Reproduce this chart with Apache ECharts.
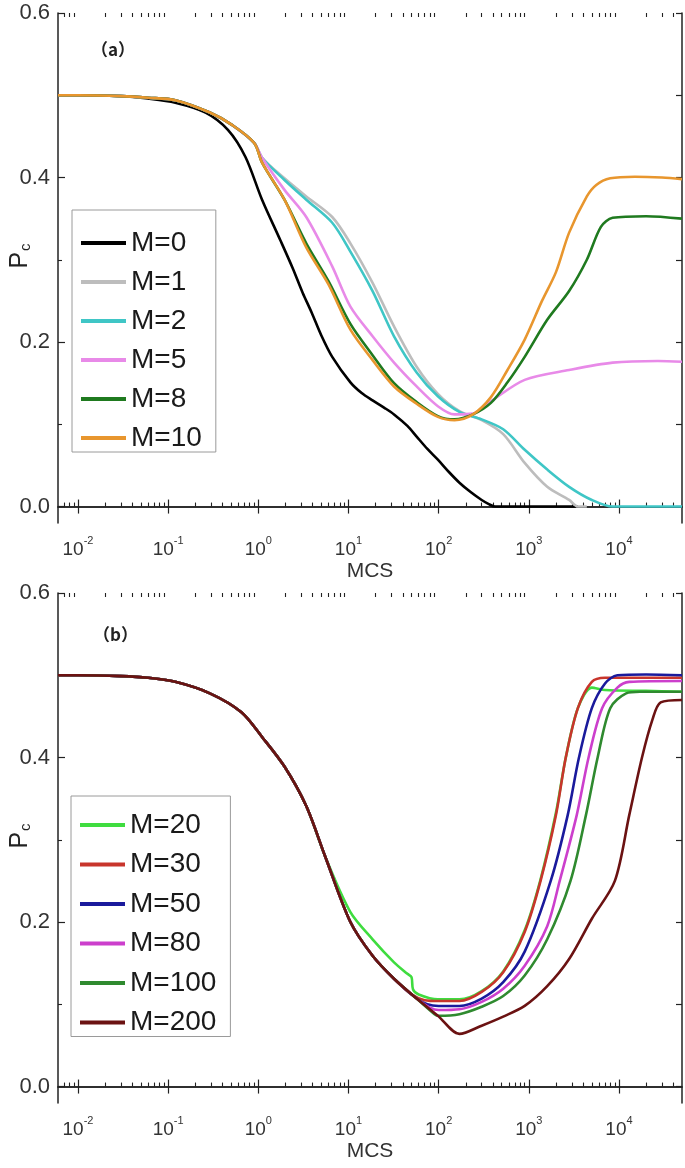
<!DOCTYPE html>
<html><head><meta charset="utf-8">
<script src="https://cdn.jsdelivr.net/npm/echarts@6/dist/echarts.min.js"></script>
<style>html,body{margin:0;padding:0;background:#fff}#c{width:685px;height:1168px}</style>
</head><body><div id="c"></div>
<script>
// ---------- tick definitions ----------
const xMajorTicks = [0.01, 0.1, 1, 10, 100, 1000, 10000];
const xMinorTicks = [0.007,0.008,0.009,0.02,0.03,0.04,0.05,0.06,0.07,0.08,0.09,0.2,0.3,0.4,0.5,0.6,0.7,0.8,0.9,2,3,4,5,6,7,8,9,20,30,40,50,60,70,80,90,200,300,400,500,600,700,800,900,2000,3000,4000,5000,6000,7000,8000,9000,20000,30000,40000];
const yMajorTicks = [0.0, 0.2, 0.4, 0.6];
const yMinorTicks = [0.1, 0.3, 0.5];
const yAllTicks = [0.0, 0.1, 0.2, 0.3, 0.4, 0.5, 0.6];

// ---------- panel (a) ----------
const namesA = ['M=0', 'M=1', 'M=2', 'M=5', 'M=8', 'M=10'];
const colorsA = ['#000000', '#bdbdbd', '#3fc6c6', '#e88ae8', '#1f7a1f', '#e8962e'];

const xA0 = [0.006,0.01,0.03,0.06,0.12,0.26,0.46,0.72,1.1,1.75,2.4,3.1,3.9,5,6.6,10.5,14,18.5,25,32,45,57,75,98,130,170,230,300,360,420,600,1000,2000,3500];
const yA0 = [0.5,0.5,0.499,0.496,0.491,0.479,0.458,0.425,0.373,0.324,0.29,0.26,0.236,0.208,0.182,0.151,0.138,0.129,0.12,0.112,0.098,0.085,0.07,0.057,0.042,0.029,0.017,0.008,0.003,0.0,0,0,0,0];

const xA1 = [0.006,0.01,0.03,0.06,0.12,0.29,0.51,0.9,1.1,1.95,3.4,6.6,10.5,18.5,32,57,98,170,300,520,900,1600,2800,3500,4400];
const yA1 = [0.5,0.5,0.499,0.497,0.494,0.479,0.464,0.442,0.424,0.399,0.377,0.352,0.32,0.272,0.219,0.17,0.137,0.116,0.105,0.088,0.053,0.024,0.008,0.0,0.0];

const xA2 = [0.006,0.01,0.03,0.06,0.12,0.29,0.51,0.9,1.1,1.95,3.4,6.6,10.5,18.5,32,57,98,170,300,520,900,1600,2800,5000,8500,20000,50000];
const yA2 = [0.5,0.5,0.499,0.497,0.494,0.479,0.464,0.442,0.424,0.397,0.373,0.345,0.31,0.262,0.207,0.163,0.134,0.115,0.106,0.094,0.069,0.045,0.024,0.008,0.0,0.0,0.0];

const xA5 = [0.006,0.01,0.03,0.06,0.12,0.29,0.51,0.9,1.1,1.95,3.4,6.6,10.5,18.5,32,57,98,150,240,380,900,2800,8500,27000,50000];
const yA5 = [0.5,0.5,0.499,0.497,0.494,0.479,0.464,0.442,0.424,0.385,0.352,0.292,0.243,0.207,0.175,0.146,0.122,0.112,0.113,0.128,0.154,0.166,0.175,0.177,0.176];

const xA8 = [0.006,0.01,0.03,0.06,0.12,0.29,0.51,0.9,1.1,1.95,3.4,6.0,10.5,18.5,32,57,98,150,240,380,580,900,1600,2800,4400,6300,8500,20000,50000];
const yA8 = [0.5,0.5,0.499,0.497,0.494,0.479,0.464,0.442,0.418,0.373,0.32,0.274,0.222,0.184,0.15,0.127,0.11,0.106,0.112,0.126,0.151,0.182,0.227,0.262,0.3,0.34,0.351,0.353,0.35];

const xA10 = [0.006,0.01,0.03,0.06,0.12,0.29,0.51,0.9,1.1,1.95,3.4,6.0,10.5,18.5,32,57,98,150,240,380,580,900,1400,2000,2800,4400,5600,8000,15000,30000,50000];
const yA10 = [0.5,0.5,0.499,0.497,0.494,0.479,0.464,0.442,0.418,0.373,0.315,0.27,0.215,0.178,0.146,0.125,0.109,0.105,0.112,0.133,0.166,0.203,0.25,0.285,0.333,0.377,0.391,0.399,0.401,0.4,0.398];

const xsA = [xA0, xA1, xA2, xA5, xA8, xA10];
const ysA = [yA0, yA1, yA2, yA5, yA8, yA10];

// ---------- panel (b) ----------
const namesB = ['M=20', 'M=30', 'M=50', 'M=80', 'M=100', 'M=200'];
const colorsB = ['#3fdc3f', '#c8352c', '#1a1a9c', '#cc3fcc', '#2f8a2f', '#6b1212'];

const xB20 = [0.006,0.01,0.03,0.06,0.12,0.29,0.65,1.1,1.95,3.4,5.5,10.5,18.5,32,45,50,52,60,98,170,300,520,900,1350,2000,2570,3500,5000,7000,20000,50000];
const yB20 = [0.5,0.5,0.499,0.497,0.492,0.478,0.455,0.425,0.389,0.341,0.28,0.212,0.179,0.151,0.137,0.133,0.118,0.112,0.106,0.106,0.116,0.14,0.19,0.252,0.333,0.4,0.46,0.485,0.482,0.481,0.48];

const xB30 = [0.006,0.01,0.03,0.06,0.12,0.29,0.65,1.1,1.95,3.4,5.5,10.5,18.5,32,50,70,100,170,300,520,900,1350,2000,2570,3500,5000,7000,20000,50000];
const yB30 = [0.5,0.5,0.499,0.497,0.492,0.478,0.455,0.425,0.389,0.341,0.28,0.2,0.159,0.131,0.112,0.105,0.104,0.104,0.115,0.139,0.188,0.25,0.33,0.4,0.46,0.492,0.497,0.497,0.497];

const xB50 = [0.006,0.01,0.03,0.06,0.12,0.29,0.65,1.1,1.95,3.4,5.5,10.5,18.5,32,57,75,100,170,300,520,900,1750,2700,3600,5000,7000,9600,20000,50000];
const yB50 = [0.5,0.5,0.499,0.497,0.492,0.478,0.455,0.425,0.389,0.341,0.28,0.2,0.159,0.131,0.107,0.1,0.098,0.098,0.107,0.127,0.164,0.25,0.33,0.4,0.46,0.49,0.5,0.501,0.5];

const xB80 = [0.006,0.01,0.03,0.06,0.12,0.29,0.65,1.1,1.95,3.4,5.5,10.5,18.5,32,57,80,100,170,300,520,900,1600,2200,3400,4600,6500,9600,13000,50000];
const yB80 = [0.5,0.5,0.499,0.497,0.492,0.478,0.455,0.425,0.389,0.341,0.28,0.2,0.159,0.131,0.107,0.096,0.093,0.094,0.103,0.119,0.147,0.195,0.25,0.33,0.4,0.46,0.485,0.492,0.493];

const xB100 = [0.006,0.01,0.03,0.06,0.12,0.29,0.65,1.1,1.95,3.4,5.5,10.5,18.5,32,57,90,100,170,300,520,900,1600,2900,4300,5800,8000,12000,17000,50000];
const yB100 = [0.5,0.5,0.499,0.497,0.492,0.478,0.455,0.425,0.389,0.341,0.28,0.2,0.159,0.131,0.107,0.088,0.086,0.088,0.097,0.11,0.135,0.179,0.25,0.33,0.4,0.46,0.478,0.48,0.48];

const xB200 = [0.006,0.01,0.03,0.06,0.12,0.29,0.65,1.1,1.95,3.4,5.5,10.5,18.5,32,57,98,170,300,520,900,1600,2800,5000,9000,13000,18000,23500,29000,50000];
const yB200 = [0.5,0.5,0.499,0.497,0.492,0.478,0.455,0.425,0.389,0.341,0.28,0.2,0.159,0.131,0.107,0.086,0.064,0.074,0.085,0.098,0.122,0.155,0.204,0.25,0.33,0.4,0.446,0.467,0.47];

const xsB = [xB20, xB30, xB50, xB80, xB100, xB200];
const ysB = [yB20, yB30, yB50, yB80, yB100, yB200];

// ---------- chart ----------
const FONT = '"Liberation Sans", Arial, sans-serif';
const AX = '#222';
const grids = [
  { left: 58, width: 624, top: 13, height: 510, containLabel: false, outerBoundsMode: 'none' },
  { left: 58, width: 624, top: 593, height: 510, containLabel: false, outerBoundsMode: 'none' }
];

const xAxes = [], yAxes = [];
grids.forEach((g, gi) => {
  const base = { type: 'log', logBase: 10, min: 0.006, max: 50000, gridIndex: gi, splitLine: { show: false } };
  xAxes.push(Object.assign({}, base, {
    position: 'bottom',
    axisLine: { show: true, lineStyle: { color: AX, width: 1.5 } },
    axisTick: { show: true, inside: true, length: 7, customValues: xMajorTicks, lineStyle: { color: AX, width: 1.2 } },
    axisLabel: {
      show: true, customValues: xMajorTicks, margin: 12, fontFamily: FONT,
      formatter: v => '{b|10}{s|' + Math.round(Math.log10(v)) + '}',
      rich: {
        b: { fontSize: 19, color: '#333', fontFamily: FONT, lineHeight: 24, verticalAlign: 'bottom' },
        s: { fontSize: 11, color: '#333', fontFamily: FONT, lineHeight: 24, verticalAlign: 'top' }
      }
    },
    name: 'MCS', nameLocation: 'middle', nameGap: 38,
    nameTextStyle: { fontSize: 21, color: '#333', fontFamily: FONT }
  }));
  xAxes.push(Object.assign({}, base, {
    position: 'top',
    axisLine: { show: true, lineStyle: { color: AX, width: 1.5 } },
    axisTick: { show: true, inside: true, length: 7, customValues: xMajorTicks, lineStyle: { color: AX, width: 1.2 } },
    axisLabel: { show: false }
  }));
  xAxes.push(Object.assign({}, base, {
    position: 'bottom',
    axisLine: { show: false },
    axisTick: { show: true, inside: true, length: 4, customValues: xMinorTicks, lineStyle: { color: AX, width: 1.1 } },
    axisLabel: { show: false }
  }));
  xAxes.push(Object.assign({}, base, {
    position: 'top',
    axisLine: { show: false },
    axisTick: { show: true, inside: true, length: 4, customValues: xMinorTicks, lineStyle: { color: AX, width: 1.1 } },
    axisLabel: { show: false }
  }));

  const ybase = { type: 'value', min: -0.02, max: 0.6, gridIndex: gi, splitLine: { show: false } };
  yAxes.push(Object.assign({}, ybase, {
    position: 'left',
    axisLine: { show: true, lineStyle: { color: AX, width: 1.5 } },
    axisTick: { show: true, inside: true, length: 7, customValues: yMajorTicks, lineStyle: { color: AX, width: 1.2 } },
    axisLabel: { show: true, customValues: yMajorTicks, margin: 8, fontSize: 22, color: '#333', fontFamily: FONT,
      formatter: v => Number(v).toFixed(1) }
  }));
  yAxes.push(Object.assign({}, ybase, {
    position: 'left',
    axisLine: { show: false },
    axisTick: { show: true, inside: true, length: 4, customValues: yMinorTicks, lineStyle: { color: AX, width: 1.1 } },
    axisLabel: { show: false }
  }));
  yAxes.push(Object.assign({}, ybase, {
    position: 'right',
    axisLine: { show: true, lineStyle: { color: AX, width: 1.5 } },
    axisTick: { show: true, inside: true, length: 6, customValues: yAllTicks, lineStyle: { color: AX, width: 1.2 } },
    axisLabel: { show: false }
  }));
});

const series = [];
function addSeries(names, colors, xs, ys, gi) {
  names.forEach((n, i) => {
    series.push({
      name: n, type: 'line', xAxisIndex: gi * 4, yAxisIndex: gi * 3,
      showSymbol: false, symbol: 'none', smooth: 0.3, animation: false,
      lineStyle: { color: colors[i], width: 2.6 }, itemStyle: { color: colors[i] },
      data: xs[i].map((x, k) => [x, ys[i][k]])
    });
  });
}
addSeries(namesA, colorsA, xsA, ysA, 0);
addSeries(namesB, colorsB, xsB, ysB, 1);

const legendCommon = {
  orient: 'vertical', icon: 'rect', itemWidth: 45, itemHeight: 4,
  borderColor: '#9a9a9a', borderWidth: 1, backgroundColor: '#fff',
  textStyle: { fontSize: 28, lineHeight: 28, color: '#1a1a1a', fontFamily: FONT },
  selectedMode: false
};

function yName(cy) {
  return {
    type: 'text', x: 20, y: cy, rotation: Math.PI / 2,
    style: {
      text: '{p|P}{c|c}', align: 'center', verticalAlign: 'middle',
      rich: {
        p: { fontSize: 25, fill: '#222', fontFamily: FONT },
        c: { fontSize: 15, fill: '#222', fontFamily: FONT, padding: [12, 0, 0, 1] }
      }
    }
  };
}

const option = {
  animation: false,
  backgroundColor: '#fff',
  grid: grids,
  xAxis: xAxes,
  yAxis: yAxes,
  title: [
    { text: '（a）', left: 86, top: 36, textStyle: { fontSize: 17, fontWeight: 'bold', color: '#222', fontFamily: '"Noto Sans CJK SC", ' + FONT } },
    { text: '（b）', left: 88, top: 621, textStyle: { fontSize: 17, fontWeight: 'bold', color: '#222', fontFamily: '"Noto Sans CJK SC", ' + FONT } }
  ],
  graphic: [yName(256), yName(836)],
  legend: [
    Object.assign({}, legendCommon, { data: namesA, left: 72, top: 210, itemGap: 11, padding: [19, 14, 0, 9] }),
    Object.assign({}, legendCommon, { data: namesB, left: 71, top: 796, itemGap: 11.5, padding: [15, 14, 0, 9] })
  ],
  series: series
};

const chart = echarts.init(document.getElementById('c'), null, { renderer: 'canvas' });
chart.setOption(option);
</script>
</body></html>
